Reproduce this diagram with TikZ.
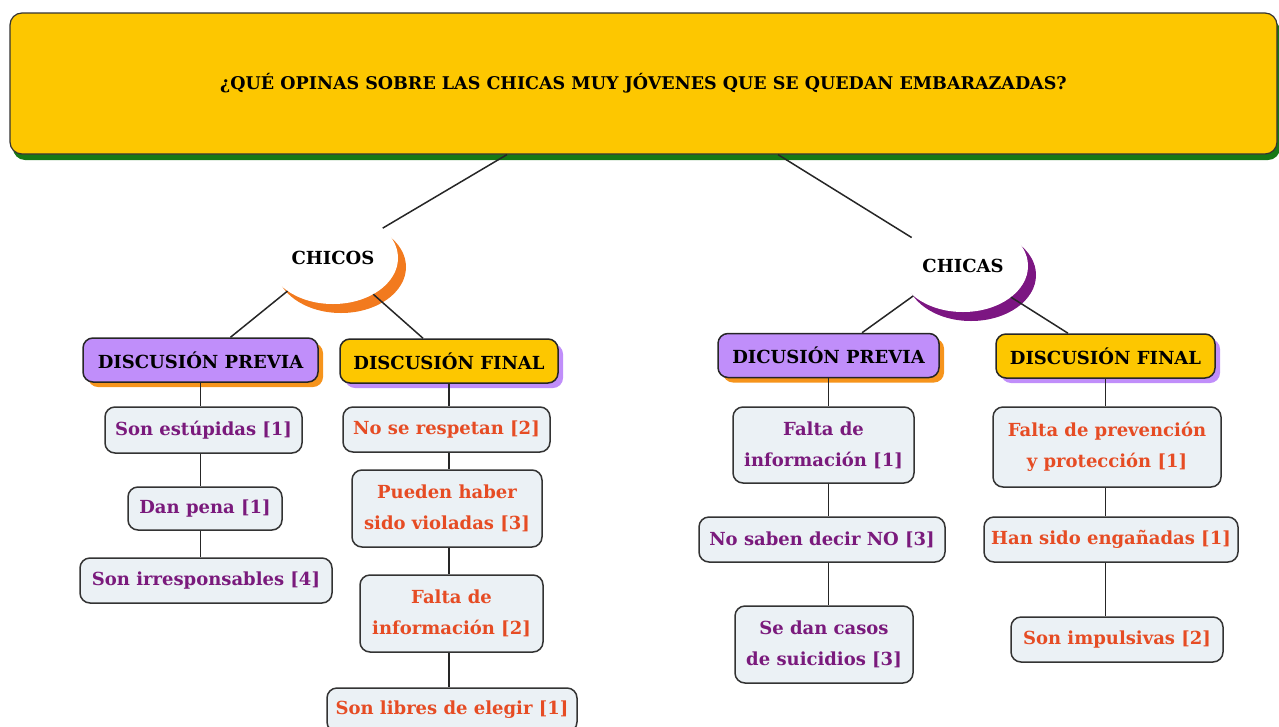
\documentclass[tikz,border=0pt]{standalone}
\usepackage{fontspec}
\setmainfont{DejaVu Serif}
\usetikzlibrary{shapes.geometric,shadows,positioning}

\definecolor{oro}{RGB}{253,199,0}
\definecolor{verde}{RGB}{22,120,22}
\definecolor{lila}{RGB}{192,142,250}
\definecolor{naranja}{RGB}{246,148,28}
\definecolor{luna1}{RGB}{242,122,30}
\definecolor{luna2}{RGB}{124,22,130}
\definecolor{hoja}{RGB}{235,241,245}
\definecolor{txtA}{RGB}{122,26,124}
\definecolor{txtB}{RGB}{230,76,36}

\tikzset{
  pregunta/.style={draw=black!80, line width=1.2pt, fill=oro, rounded corners=12pt,
    minimum width=1267pt, minimum height=141pt,
    font=\fontsize{17.5}{20}\selectfont\bfseries,
    drop shadow={fill=verde, opacity=1, shadow xshift=3pt, shadow yshift=-6pt}},
  burbuja/.style={ellipse, fill=white, minimum width=130pt, minimum height=92pt,
    font=\fontsize{18}{20}\selectfont\bfseries,
    drop shadow={fill=#1, opacity=1, shadow xshift=8pt, shadow yshift=-9pt}},
  titulo/.style={draw=black!85, line width=1.5pt, fill=#1, rounded corners=10pt,
    minimum height=44pt, inner sep=0pt, font=\fontsize{18}{20}\selectfont\bfseries},
  previa/.style={titulo=lila, drop shadow={fill=naranja, opacity=1, shadow xshift=5pt, shadow yshift=-5pt}},
  final/.style={titulo=oro, drop shadow={fill=lila, opacity=1, shadow xshift=5pt, shadow yshift=-5pt}},
  hoja/.style={draw=black!80, line width=1.5pt, fill=hoja, rounded corners=10pt,
    align=center, inner sep=0pt, text=#1,
    font=\fontsize{18}{31}\selectfont\bfseries},
  conector/.style={draw=black!85, line width=1.5pt}
}

\begin{document}
\begin{tikzpicture}[x=1pt, y=-1pt, line join=round]
    \useasboundingbox (0,0) rectangle (1279,726);

    % 1. 问题与两个分组
    \node[pregunta] (q) at (643.5,83.5) {¿QUÉ OPINAS SOBRE LAS CHICAS MUY JÓVENES QUE SE QUEDAN EMBARAZADAS?};
    \node[burbuja=luna1] (chicos) at (333,258) {CHICOS};
    \node[burbuja=luna2] (chicas) at (963,266) {CHICAS};

    % 2. 讨论标题
    \node[previa, minimum width=235pt] (pA) at (200.5,360) {DISCUSIÓN PREVIA};
    \node[final, minimum width=218pt] (fA) at (449,361) {DISCUSIÓN FINAL};
    \node[previa, minimum width=221pt] (pB) at (828.5,355.5) {DICUSIÓN PREVIA};
    \node[final, minimum width=219pt] (fB) at (1105.5,356) {DISCUSIÓN FINAL};

    % 3. 各列的回答
    \node[hoja=txtA, minimum width=197pt, minimum height=46pt] (a1) at (203.5,430) {Son estúpidas [1]};
    \node[hoja=txtA, minimum width=154pt, minimum height=43pt] (a2) at (205,508.5) {Dan pena [1]};
    \node[hoja=txtA, minimum width=252pt, minimum height=45pt] (a3) at (206,580.5) {Son irresponsables [4]};

    \node[hoja=txtB, minimum width=207pt, minimum height=45pt] (b1) at (446.5,429.5) {No se respetan [2]};
    \node[hoja=txtB, minimum width=190pt, minimum height=77pt] (b2) at (447,508.5) {Pueden haber\\sido violadas [3]};
    \node[hoja=txtB, minimum width=183pt, minimum height=77pt] (b3) at (451.5,613.5) {Falta de\\información [2]};
    \node[hoja=txtB, minimum width=250pt, minimum height=44pt] (b4) at (452,710) {Son libres de elegir [1]};

    \node[hoja=txtA, minimum width=181pt, minimum height=76pt] (c1) at (823.5,445) {Falta de\\información [1]};
    \node[hoja=txtA, minimum width=246pt, minimum height=45pt] (c2) at (822,539.5) {No saben decir NO [3]};
    \node[hoja=txtA, minimum width=178pt, minimum height=77pt] (c3) at (824,644.5) {Se dan casos\\de suicidios [3]};

    \node[hoja=txtB, minimum width=228pt, minimum height=80pt] (d1) at (1107,447) {Falta de prevención\\y protección [1]};
    \node[hoja=txtB, minimum width=254pt, minimum height=45pt] (d2) at (1111,539.5) {Han sido engañadas [1]};
    \node[hoja=txtB, minimum width=212pt, minimum height=45pt] (d3) at (1117,639.5) {Son impulsivas [2]};

    % 4. 连线
    \draw[conector] ([xshift=-136.5pt]q.south) -- (chicos.31);
    \draw[conector] ([xshift=134.5pt]q.south) -- (chicas.151);
    \draw[conector] (chicos.216) -- ([xshift=30pt]pA.north);
    \draw[conector] (chicos.318) -- ([xshift=-26pt]fA.north);
    \draw[conector] (chicas.211) -- ([xshift=33.5pt]pB.north);
    \draw[conector] (chicas.327) -- ([xshift=-37.5pt]fB.north);

    \draw[conector] (pA.south) -- (pA.south |- a1.north);
    \draw[conector] (a1.south -| pA.south) -- (a2.north -| pA.south);
    \draw[conector] (a2.south -| pA.south) -- (a3.north -| pA.south);

    \draw[conector] (fA.south) -- (fA.south |- b1.north);
    \draw[conector] (b1.south -| fA.south) -- (b2.north -| fA.south);
    \draw[conector] (b2.south -| fA.south) -- (b3.north -| fA.south);
    \draw[conector] (b3.south -| fA.south) -- (b4.north -| fA.south);

    \draw[conector] (pB.south) -- (pB.south |- c1.north);
    \draw[conector] (c1.south -| pB.south) -- (c2.north -| pB.south);
    \draw[conector] (c2.south -| pB.south) -- (c3.north -| pB.south);

    \draw[conector] (fB.south) -- (fB.south |- d1.north);
    \draw[conector] (d1.south -| fB.south) -- (d2.north -| fB.south);
    \draw[conector] (d2.south -| fB.south) -- (d3.north -| fB.south);

\end{tikzpicture}
\end{document}
